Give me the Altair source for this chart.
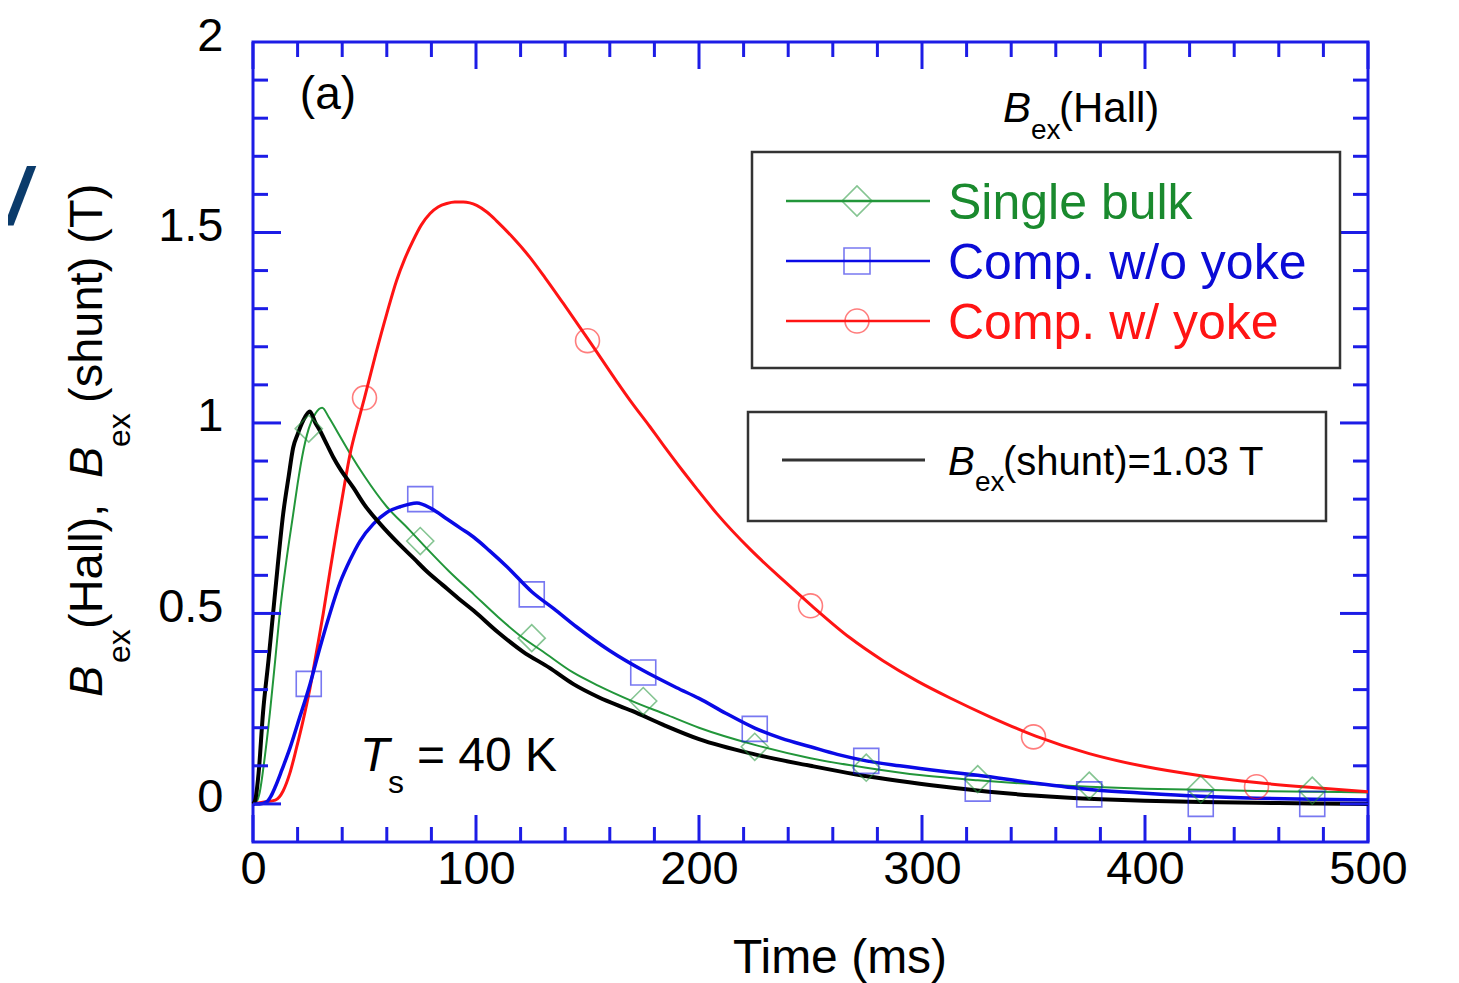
import altair as alt
import pandas as pd

# ---------------- data ----------------
shunt_t = [0, 1, 2.5, 4.5, 7, 9, 11, 13.5, 16, 18, 20, 22.5, 25.5, 28, 30, 33, 36, 39, 45, 50,
           57, 65, 72, 78, 85, 92, 99, 110, 121, 133, 143.5, 155, 170, 185, 200, 225, 250, 270, 290, 310,
           330, 350, 380, 400, 425, 450, 475, 500]
shunt_v = [0.0, 0.01, 0.08, 0.24, 0.38, 0.50, 0.62, 0.76, 0.86, 0.935, 0.97, 1.006, 1.03, 1.0, 0.98, 0.945, 0.91, 0.88, 0.83, 0.785,
           0.735, 0.685, 0.645, 0.61, 0.575, 0.54, 0.507, 0.45, 0.40, 0.357, 0.315, 0.28, 0.244, 0.205, 0.17, 0.13, 0.10, 0.078, 0.06, 0.045,
           0.032, 0.022, 0.012, 0.008, 0.005, 0.003, 0.001, 0.0]

single_t = [0, 1.5, 3, 5, 7.6, 10, 12, 15, 18, 20, 22, 25, 28, 31, 34, 38, 43.5, 50, 60, 70,
            78, 88, 99, 110, 121, 130, 143.5, 155, 170, 185, 200, 225, 250, 275, 300, 325, 350, 375, 400, 425,
            450, 475, 500]
single_v = [0.0, 0.005, 0.03, 0.11, 0.24, 0.38, 0.50, 0.64, 0.76, 0.84, 0.91, 0.985, 1.025, 1.04, 1.015, 0.975, 0.92, 0.86, 0.78, 0.72,
            0.67, 0.61, 0.55, 0.49, 0.436, 0.40, 0.345, 0.31, 0.27, 0.235, 0.20, 0.155, 0.12, 0.095, 0.075, 0.062, 0.052, 0.045, 0.04, 0.037,
            0.034, 0.032, 0.03]

woyoke_t = [0, 3, 6, 8, 10, 13, 16.6, 20, 25.6, 30, 34.5, 39, 43.5, 48, 54, 60, 66, 73.5, 80, 87,
            93, 99, 106, 114, 125, 135, 145, 160, 175, 190, 200, 212, 225, 237, 250, 262, 275, 290, 310, 325,
            350, 375, 400, 425, 450, 475, 500]
woyoke_v = [0.0, 0.0, 0.005, 0.02, 0.045, 0.09, 0.147, 0.21, 0.315, 0.41, 0.50, 0.58, 0.64, 0.69, 0.735, 0.765, 0.78, 0.79, 0.775, 0.748,
            0.724, 0.70, 0.665, 0.622, 0.557, 0.512, 0.465, 0.402, 0.35, 0.305, 0.277, 0.238, 0.199, 0.172, 0.15, 0.13, 0.113, 0.10, 0.085, 0.075,
            0.055, 0.038, 0.028, 0.02, 0.015, 0.012, 0.01]

wyoke_t = [0, 5, 10, 13.5, 16.5, 19.5, 22.5, 25.6, 28.5, 31.5, 34.5, 37.5, 40.5, 43.6, 47, 50, 55, 60, 64.4, 68,
           71.8, 75.5, 79.4, 83, 86.9, 90.5, 94.3, 100.3, 105, 109.3, 116, 124, 131, 139, 150.7, 163, 169, 178, 184, 193,
           199, 208, 223, 238, 250.6, 267.7, 282.5, 297.7, 312.6, 330, 351, 375, 400, 425, 450, 475, 500]
wyoke_v = [0.0, 0.005, 0.01, 0.034, 0.08, 0.147, 0.22, 0.305, 0.40, 0.50, 0.61, 0.717, 0.82, 0.92, 1.0, 1.066, 1.18, 1.287, 1.374, 1.43,
           1.479, 1.52, 1.55, 1.567, 1.576, 1.58, 1.58, 1.571, 1.553, 1.53, 1.49, 1.436, 1.381, 1.315, 1.216, 1.11, 1.06, 0.99, 0.942, 0.872,
           0.827, 0.762, 0.668, 0.586, 0.52, 0.436, 0.376, 0.323, 0.278, 0.23, 0.178, 0.132, 0.098, 0.074, 0.056, 0.043, 0.032]

single_mk_t = [25, 75, 125, 175, 225, 275, 325, 375, 425, 475]
single_mk_v = [0.985, 0.69, 0.435, 0.27, 0.15, 0.095, 0.065, 0.048, 0.038, 0.035]
woyoke_mk_t = [25, 75, 125, 175, 225, 275, 325, 375, 425, 475]
woyoke_mk_v = [0.315, 0.80, 0.55, 0.345, 0.197, 0.113, 0.04, 0.025, 0.0, 0.0]
wyoke_mk_t = [50, 150, 250, 350, 450]
wyoke_mk_v = [1.066, 1.216, 0.52, 0.176, 0.045]

x_major = [0, 100, 200, 300, 400, 500]
x_minor = [20, 40, 60, 80, 120, 140, 160, 180, 220, 240, 260, 280, 320, 340, 360, 380, 420, 440, 460, 480]
y_major = [0, 0.5, 1, 1.5]
y_minor = [0.1, 0.2, 0.3, 0.4, 0.6, 0.7, 0.8, 0.9, 1.1, 1.2, 1.3, 1.4, 1.6, 1.7, 1.8, 1.9]
x_labels = [0, 100, 200, 300, 400, 500]
y_labels = [0, 0.5, 1, 1.5, 2]

# ---------------- styling ----------------
FONT = "Liberation Sans"
BLUE_AX = "#1c1ce6"
GREEN = "#22963a"
GREEN_TXT = "#1a8a2e"
BLUE = "#0a0ae6"
BLUE_TXT = "#0b0bd6"
RED = "#ff1414"
W, H = 1115, 800

x_scale = alt.Scale(domain=[0, 500], nice=False, zero=False)
y_scale = alt.Scale(domain=[-0.1, 2], nice=False, zero=False)
x_axis = alt.Axis(values=x_labels, format="d", ticks=False, domain=False, grid=False,
                  labelFont=FONT, labelFontSize=47, labelColor="black", labelPadding=4,
                  labelFlush=False, labelOverlap=False, title=None)
y_axis = alt.Axis(values=y_labels, format="~g", ticks=False, domain=False, grid=False,
                  labelFont=FONT, labelFontSize=47, labelColor="black", labelPadding=30,
                  labelFlush=False, labelOverlap=False, labelOffset=-6, title=None)
X = alt.X("t:Q", scale=x_scale, axis=x_axis)
Y = alt.Y("v:Q", scale=y_scale, axis=y_axis)


def df(t, v):
    return pd.DataFrame({"t": t, "v": v})


one = pd.DataFrame({"k": [0]})


def line(t, v, color, width):
    return alt.Chart(df(t, v)).mark_line(color=color, strokeWidth=width, interpolate="monotone").encode(x=X, y=Y)


def markers(t, v, shape, size, color):
    return alt.Chart(df(t, v)).mark_point(shape=shape, size=size, filled=False, color=color,
                                          strokeWidth=1.6, opacity=0.55).encode(x=X, y=Y)


def txt(text, x, y, size, color="black", style="normal", angle=0, align="left",
        baseline="alphabetic", weight="normal"):
    return alt.Chart(one).mark_text(text=text, font=FONT, fontSize=size, fontStyle=style, color=color,
                                    fontWeight=weight, align=align, baseline=baseline, angle=angle).encode(
        x=alt.value(x), y=alt.value(y))


def dtxt(text, t, v, size, style="normal", align="left", baseline="alphabetic"):
    return alt.Chart(df([t], [v])).mark_text(text=text, font=FONT, fontSize=size, fontStyle=style,
                                             color="black", align=align, baseline=baseline).encode(x=X, y=Y)


def xticks(vals, y0, y1):
    return alt.Chart(pd.DataFrame({"t": vals})).mark_rule(color=BLUE_AX, strokeWidth=3).encode(
        x=X, y=alt.value(y0), y2=alt.value(y1))


def yticks(vals, x0, x1):
    return alt.Chart(pd.DataFrame({"v": vals})).mark_rule(color=BLUE_AX, strokeWidth=3).encode(
        y=Y, x=alt.value(x0), x2=alt.value(x1))


def hrule(x0, x1, y, color, width):
    return alt.Chart(one).mark_rule(color=color, strokeWidth=width).encode(
        x=alt.value(x0), x2=alt.value(x1), y=alt.value(y))


def box(x0, x1, y0, y1):
    return alt.Chart(one).mark_rect(fillOpacity=0, stroke="#333333", strokeWidth=2.5).encode(
        x=alt.value(x0), x2=alt.value(x1), y=alt.value(y0), y2=alt.value(y1))


def lmark(x, y, shape, size, color):
    return alt.Chart(one).mark_point(shape=shape, size=size, filled=False, color=color,
                                     strokeWidth=1.6, opacity=0.55).encode(x=alt.value(x), y=alt.value(y))


layers = [
    # data curves
    line(single_t, single_v, GREEN, 2),
    line(wyoke_t, wyoke_v, RED, 3),
    line(woyoke_t, woyoke_v, BLUE, 3.5),
    line(shunt_t, shunt_v, "black", 4),
    markers(single_mk_t, single_mk_v, "diamond", 729, GREEN),
    markers(woyoke_mk_t, woyoke_mk_v, "square", 625, BLUE),
    markers(wyoke_mk_t, wyoke_mk_v, "circle", 573, RED),
    # mirrored inward ticks
    xticks(x_major, H, H - 27), xticks(x_minor, H, H - 15),
    xticks(x_major, 0, 27), xticks(x_minor, 0, 15),
    yticks(y_major, 0, 28), yticks(y_minor, 0, 15),
    yticks(y_major, W, W - 28), yticks(y_minor, W, W - 15),
    # in-plot annotations
    dtxt("(a)", 33.6, 1.86, 46, align="center", baseline="middle"),
    dtxt("T", 48, 0.087, 48, style="italic"),
    dtxt("s", 60.5, 0.029, 32),
    dtxt("= 40 K", 73.5, 0.087, 48),
    # legend header
    txt("B", 750, 80, 42, style="italic"),
    txt("ex", 778, 97, 28),
    txt("(Hall)", 806, 80, 42),
    # legend box 1
    box(499, 1087, 110, 326),
    hrule(533, 677, 159, GREEN, 2.5), lmark(604, 159, "diamond", 900, GREEN),
    txt("Single bulk", 695, 177, 50, color=GREEN_TXT),
    hrule(533, 677, 219, BLUE, 2.5), lmark(604, 219, "square", 676, BLUE),
    txt("Comp. w/o yoke", 695, 237, 50, color=BLUE_TXT),
    hrule(533, 677, 279, RED, 2.5), lmark(604, 279, "circle", 573, RED),
    txt("Comp. w/ yoke", 695, 297, 50, color=RED),
    # legend box 2
    box(495, 1073, 370, 479),
    hrule(529, 672, 418, "#333333", 3),
    txt("B", 695, 433, 40, style="italic"),
    txt("ex", 722, 449, 28),
    txt("(shunt)=1.03 T", 750, 433, 40),
    # axis titles
    txt("Time (ms)", 587, 931, 48, align="center"),
    txt("B", -151, 655, 47, style="italic", angle=270),
    txt("ex", -123, 621, 32, angle=270),
    txt("(Hall),", -151, 587, 47, angle=270),
    txt("B", -151, 436, 47, style="italic", angle=270),
    txt("ex", -123, 405, 32, angle=270),
    txt("(shunt) (T)", -151, 361, 47, angle=270),
    # stray slide fragment at the left edge
    txt("/", -246, 182, 80, color="#0b3b6b", style="italic", weight="bold"),
]

chart = alt.layer(*layers).properties(
    width=W, height=H,
    autosize=alt.AutoSizeParams(type="none"),
    padding={"left": 245, "top": 34, "right": 60, "bottom": 145},
).configure_view(stroke=BLUE_AX, strokeWidth=3)

chart.save("out.html", embed_options={"renderer": "svg", "actions": False})
